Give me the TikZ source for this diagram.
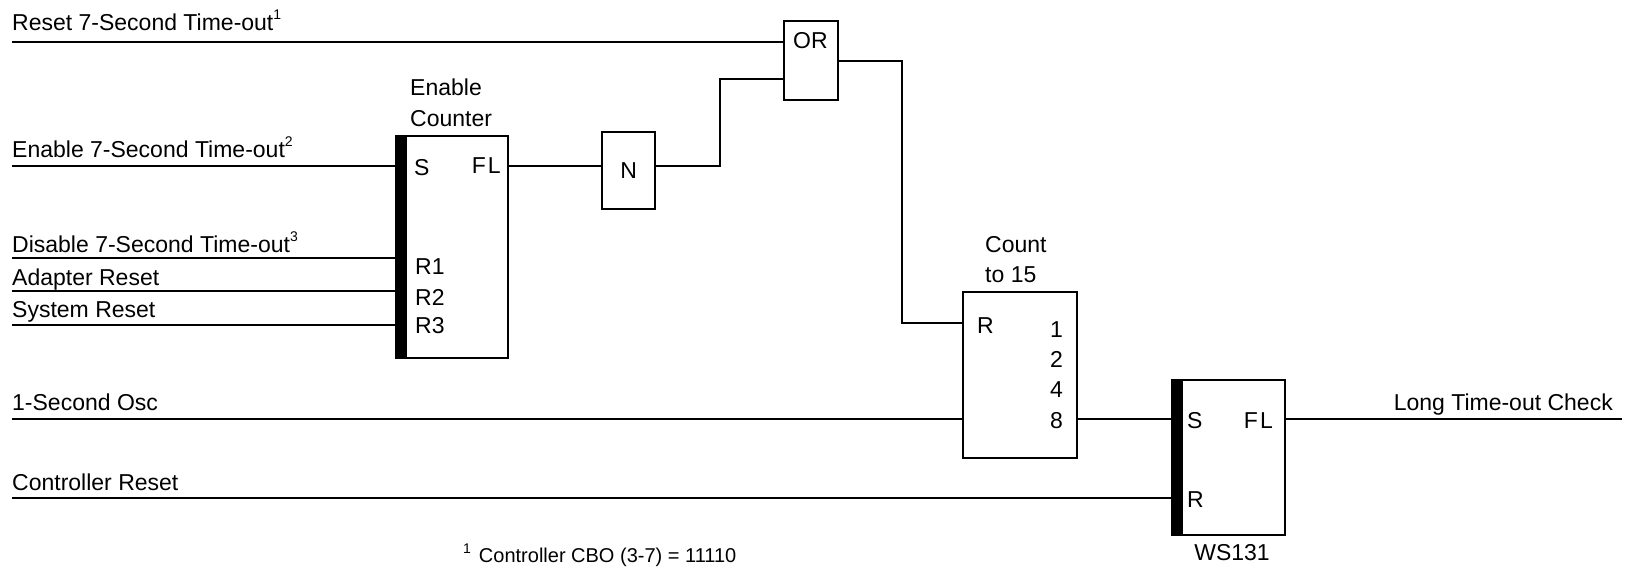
\documentclass[tikz,border=0pt]{standalone}
\usepackage{fontspec}
\setmainfont{Liberation Sans}
\usetikzlibrary{positioning}

\newcommand{\fnmark}[1]{\raisebox{0.45em}{\fontsize{14}{14}\selectfont #1}}

\begin{document}
\begin{tikzpicture}[x=1pt,y=-1pt,
    wire/.style={line width=2.4pt},
    gate/.style={draw,line width=2.4pt,anchor=north west,inner sep=0pt},
    txt/.style={inner sep=0pt,font=\fontsize{23}{27}\selectfont},
    lbl/.style={txt,anchor=base west},
    rlbl/.style={txt,anchor=base east}]
  \useasboundingbox (0,0) rectangle (1636,568);

  % blocks
  \node[gate,minimum width=112pt,minimum height=222pt] (ec)  at (395,135)  {};
  \node[gate,minimum width=53pt,minimum height=77pt]   (n)   at (601,131)  {};
  \node[gate,minimum width=54pt,minimum height=79pt]   (or)  at (783,20)   {};
  \node[gate,minimum width=114pt,minimum height=166pt] (cnt) at (962,291)  {};
  \node[gate,minimum width=113pt,minimum height=155pt] (ws)  at (1171,379) {};
  \fill (ec.north west) rectangle ([xshift=12pt]ec.south west);
  \fill (ws.north west) rectangle ([xshift=12pt]ws.south west);

  % free ends and bends
  \coordinate (inRst)  at (12,42);
  \coordinate (inEn)   at (12,166);
  \coordinate (inDis)  at (12,258);
  \coordinate (inAd)   at (12,291);
  \coordinate (inSys)  at (12,325);
  \coordinate (inOsc)  at (12,419);
  \coordinate (inCtl)  at (12,498);
  \coordinate (outChk) at (1622,419);
  \coordinate (jog)    at (720,79);
  \coordinate (drop)   at (902,323);

  \draw[wire] (inRst) -- (inRst -| or.west);
  \draw[wire] (inEn)  -- (inEn -| ec.west);
  \draw[wire] (inDis) -- (inDis -| ec.west);
  \draw[wire] (inAd)  -- (inAd -| ec.west);
  \draw[wire] (inSys) -- (inSys -| ec.west);
  \draw[wire] (inEn -| ec.east) -- (inEn -| n.west);
  \draw[wire] (inEn -| n.east) -| (jog) -- (jog -| or.west);
  \draw[wire] (or.east) -| (drop) -- (drop -| cnt.west);
  \draw[wire] (inOsc) -- (inOsc -| cnt.west);
  \draw[wire] (inOsc -| cnt.east) -- (inOsc -| ws.west);
  \draw[wire] (inCtl) -- (inCtl -| ws.west);
  \draw[wire] (inOsc -| ws.east) -- (outChk);

  % signal names
  \node[lbl]  (tRst) at (12,30)    {Reset 7-Second Time-out\fnmark{1}};
  \node[lbl]  (tEn)  at (12,157)   {Enable 7-Second Time-out\fnmark{2}};
  \node[lbl]  (tDis) at (12,252)   {Disable 7-Second Time-out\fnmark{3}};
  \node[lbl]  (tAd)  at (12,285)   {Adapter Reset};
  \node[lbl]  (tSys) at (12,317)   {System Reset};
  \node[lbl]  (tOsc) at (12,410)   {1-Second Osc};
  \node[lbl]  (tCtl) at (12,490)   {Controller Reset};
  \node[rlbl] (tChk) at (1613,410) {Long Time-out Check};

  % block texts
  \node[lbl]  (ecT1) at (410,95)   {Enable};
  \node[lbl]  (ecT2) at (410,126)  {Counter};
  \node[lbl]  (ecS)  at (414,175)  {S};
  \node[rlbl] (ecFL) at (501,173)  {F\kern2pt L};
  \node[lbl]  (ecR1) at (415,274)  {R1};
  \node[lbl]  (ecR2) at (415,305)  {R2};
  \node[lbl]  (ecR3) at (415,333)  {R3};
  \node[txt]  (nT)   at (n.center) {N};
  \node[lbl]  (orT)  at (793,48)   {OR};
  \node[lbl]  (cT1)  at (985,252)  {Count};
  \node[lbl]  (cT2)  at (985,282)  {to 15};
  \node[lbl]  (cR)   at (977,333)  {R};
  \node[rlbl] (c1)   at (1063,337) {1};
  \node[rlbl] (c2)   at (1063,367) {2};
  \node[rlbl] (c4)   at (1063,397) {4};
  \node[rlbl] (c8)   at (1063,428) {8};
  \node[lbl]  (wsS)  at (1187,428) {S};
  \node[rlbl] (wsFL) at (1273,428) {F\kern2pt L};
  \node[lbl]  (wsR)  at (1187,507) {R};
  \node[txt,anchor=base] (wsT) at (1232,560) {WS131};

  % footnote
  \node[anchor=base west,inner sep=0pt,font=\fontsize{20}{24}\selectfont] (fn) at (463,562)
    {\fnmark{1}\hspace{8pt}Controller CBO (3-7) = 11110};
\end{tikzpicture}
\end{document}
